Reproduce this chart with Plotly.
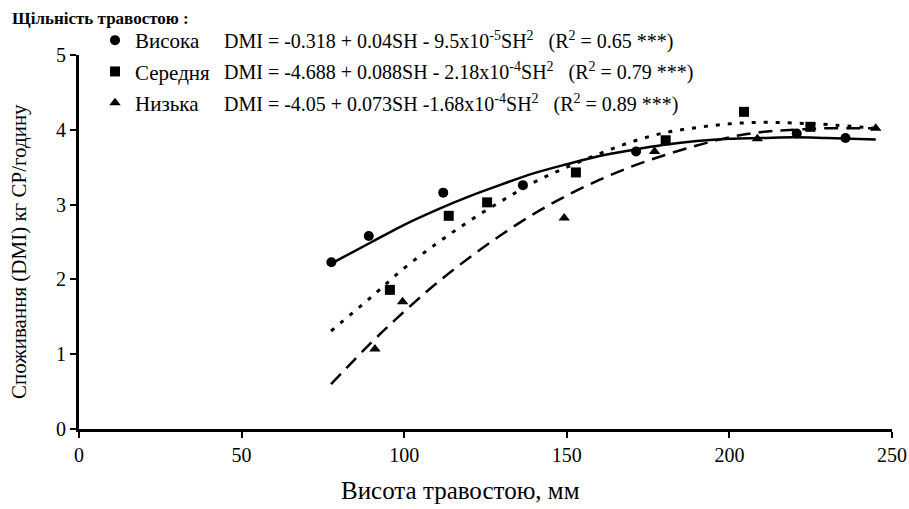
import plotly.graph_objects as go

# ---- data ----
sh_high = [77.6, 89.1, 112.0, 136.5, 171.3, 220.7, 235.7]
dmi_high = [2.23, 2.58, 3.16, 3.26, 3.71, 3.95, 3.89]

sh_mid = [95.6, 113.7, 125.5, 152.8, 180.4, 204.5, 224.9]
dmi_mid = [1.86, 2.85, 3.03, 3.43, 3.86, 4.24, 4.04]

sh_low = [91.0, 99.5, 149.2, 177.0, 208.6, 245.0]
dmi_low = [1.07, 1.70, 2.82, 3.71, 3.88, 4.02]

# fitted curves
curve_x = [77.5, 90, 100, 110, 120, 130, 140, 150, 160, 170, 180, 190, 200, 210, 220, 230, 245]
curve_high = [2.21, 2.50, 2.73, 2.93, 3.11, 3.27, 3.42, 3.54, 3.65, 3.73, 3.80, 3.85, 3.88, 3.89, 3.90, 3.89, 3.87]
curve_mid = [1.31, 1.77, 2.15, 2.48, 2.78, 3.05, 3.30, 3.50, 3.68, 3.84, 3.96, 4.03, 4.08, 4.10, 4.09, 4.07, 4.02]
curve_low = [0.60, 1.16, 1.57, 1.95, 2.29, 2.60, 2.88, 3.12, 3.33, 3.51, 3.66, 3.79, 3.90, 3.97, 4.00, 4.02, 4.02]

names = ["Висока", "Середня", "Низька"]
equations = [
    "DMI = -0.318 + 0.04SH - 9.5x10<sup>-5</sup>SH<sup>2</sup>   (R<sup>2</sup> = 0.65 ***)",
    "DMI = -4.688 + 0.088SH - 2.18x10<sup>-4</sup>SH<sup>2</sup>   (R<sup>2</sup> = 0.79 ***)",
    "DMI = -4.05 + 0.073SH -1.68x10<sup>-4</sup>SH<sup>2</sup>   (R<sup>2</sup> = 0.89 ***)",
]
x_ticks = [0, 50, 100, 150, 200, 250]
y_ticks = [0, 1, 2, 3, 4, 5]

FONT = "'Liberation Serif', 'Times New Roman', serif"

fig = go.Figure()

fig.add_trace(go.Scatter(x=curve_x, y=curve_high, mode="lines", line_shape="spline",
                         line=dict(color="black", width=2.5), showlegend=False))
fig.add_trace(go.Scatter(x=curve_x, y=curve_mid, mode="lines", line_shape="spline",
                         line=dict(color="black", width=3, dash="4px,8px"), showlegend=False))
fig.add_trace(go.Scatter(x=curve_x, y=curve_low, mode="lines", line_shape="spline",
                         line=dict(color="black", width=2.5, dash="14px,8px"), showlegend=False))

symbols = ["circle", "square", "triangle-up"]
for name, xs, ys, sym, g in zip(names, [sh_high, sh_mid, sh_low],
                                [dmi_high, dmi_mid, dmi_low], symbols, ["a", "b", "c"]):
    fig.add_trace(go.Scatter(x=xs, y=ys, mode="markers", name=name, legendgroup=g,
                             marker=dict(symbol=sym, size=10, color="black")))

annotations = [
    dict(text="<b>Щільність травостою :</b>", x=10, y=18, size=17),
]
row_y = [40, 72, 103]
for eq, ry in zip(equations, row_y):
    annotations.append(dict(text=eq, x=222, y=ry, size=20))

W, H = 909, 509
L, R, T, B = 79, 17, 55, 80
pw, ph = W - L - R, H - T - B
ann_objs = []
for a in annotations:
    ann_objs.append(dict(text=a["text"], xref="paper", yref="paper",
                         x=(a["x"] - L) / pw, y=1 + (T - a["y"]) / ph,
                         xanchor="left", yanchor="middle", showarrow=False,
                         font=dict(family=FONT, color="black", size=a["size"])))
ann_objs.append(dict(text="Споживання (DMI) кг СР/годину", xref="paper", yref="paper",
                     x=(19 - L) / pw, y=1 + (T - 252) / ph, textangle=-90,
                     xanchor="center", yanchor="middle", showarrow=False,
                     font=dict(family=FONT, color="black", size=21)))
ann_objs.append(dict(text="Висота травостою, мм", xref="paper", yref="paper",
                     x=(460 - L) / pw, y=1 + (T - 490) / ph,
                     xanchor="center", yanchor="middle", showarrow=False,
                     font=dict(family=FONT, color="black", size=25)))

fig.update_layout(
    width=W, height=H,
    margin=dict(l=L, r=R, t=T, b=B),
    paper_bgcolor="white", plot_bgcolor="white",
    font=dict(family=FONT, color="black"),
    annotations=ann_objs,
    legend=dict(x=(95 - L) / pw, y=1 + (T - 20) / ph, xanchor="left", yanchor="top",
                traceorder="grouped", tracegroupgap=1, bgcolor="rgba(0,0,0,0)",
                font=dict(family=FONT, size=21, color="black")),
    xaxis=dict(range=[0, 250], tickvals=x_ticks, showgrid=False, zeroline=False,
               showline=True, linecolor="black", linewidth=3, ticks="outside",
               ticklen=6, tickwidth=2, tickcolor="black", automargin=False,
               tickfont=dict(family=FONT, size=20)),
    yaxis=dict(range=[0, 5], tickvals=y_ticks, showgrid=False, zeroline=False,
               showline=True, linecolor="black", linewidth=3, ticks="outside",
               ticklen=6, tickwidth=2, tickcolor="black", automargin=False,
               tickfont=dict(family=FONT, size=20)),
)

fig.write_html("out.html", config={"displayModeBar": False},
               post_script="document.body.style.margin='0';")
